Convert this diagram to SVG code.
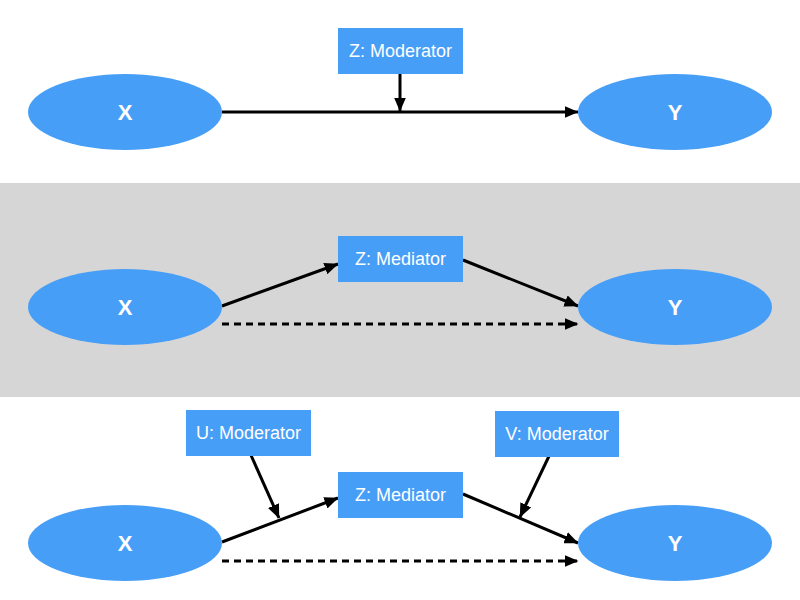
<svg xmlns="http://www.w3.org/2000/svg" width="800" height="600" viewBox="0 0 800 600">
<style>
.node{fill:#479ef7}
.lbl{fill:#ffffff;font-family:"Liberation Sans",Arial,sans-serif;text-anchor:middle;dominant-baseline:central}
.big{font-size:22px;font-weight:bold}
.small{font-size:18px}
.edge{stroke:#000;stroke-width:3;fill:none;marker-end:url(#ah)}
.dash{stroke-dasharray:7 5}
</style>
<defs>
<marker id="ah" viewBox="0 0 14 12" refX="13.5" refY="6" markerWidth="14" markerHeight="12" markerUnits="userSpaceOnUse" orient="auto">
<path d="M0,0 L14,6 L0,12 Z" fill="#000"/>
</marker>
</defs>
<rect x="0" y="0" width="800" height="600" fill="#ffffff"/>
<rect x="0" y="183" width="800" height="214" fill="#d6d6d6"/>

<g id="connectors">
<line class="edge" x1="222" y1="112" x2="578" y2="112"/>
<line class="edge" x1="400" y1="74" x2="400" y2="111"/>
<line class="edge" x1="222" y1="306" x2="338" y2="264"/>
<line class="edge" x1="463" y1="260" x2="578" y2="306"/>
<line class="edge dash" x1="222" y1="324" x2="578" y2="324"/>
<line class="edge" x1="222" y1="542" x2="338" y2="498"/>
<line class="edge" x1="463" y1="494" x2="578" y2="543"/>
<line class="edge dash" x1="222" y1="561" x2="578" y2="561"/>
<line class="edge" x1="250" y1="453" x2="279" y2="518"/>
<line class="edge" x1="550" y1="454" x2="520" y2="517"/>
</g>

<g id="top-x"><ellipse class="node" cx="125" cy="112" rx="97" ry="38"/><text class="lbl big" x="125" y="112">X</text></g>
<g id="top-y"><ellipse class="node" cx="675" cy="112" rx="97" ry="38"/><text class="lbl big" x="675" y="112">Y</text></g>
<g id="top-z"><rect class="node" x="338" y="28" width="125" height="46"/><text class="lbl small" x="400.5" y="51">Z: Moderator</text></g>

<g id="mid-x"><ellipse class="node" cx="125" cy="307" rx="97" ry="38"/><text class="lbl big" x="125" y="307">X</text></g>
<g id="mid-y"><ellipse class="node" cx="675" cy="307" rx="97" ry="38"/><text class="lbl big" x="675" y="307">Y</text></g>
<g id="mid-z"><rect class="node" x="338" y="236" width="125" height="46"/><text class="lbl small" x="400.5" y="259">Z: Mediator</text></g>

<g id="bot-x"><ellipse class="node" cx="125" cy="543" rx="97" ry="38"/><text class="lbl big" x="125" y="543">X</text></g>
<g id="bot-y"><ellipse class="node" cx="675" cy="543" rx="97" ry="38"/><text class="lbl big" x="675" y="543">Y</text></g>
<g id="bot-z"><rect class="node" x="338" y="472" width="125" height="46"/><text class="lbl small" x="400.5" y="495">Z: Mediator</text></g>
<g id="bot-u"><rect class="node" x="186" y="410" width="125" height="46"/><text class="lbl small" x="248.5" y="433">U: Moderator</text></g>
<g id="bot-v"><rect class="node" x="495" y="411" width="124" height="46"/><text class="lbl small" x="557" y="434">V: Moderator</text></g>
</svg>
